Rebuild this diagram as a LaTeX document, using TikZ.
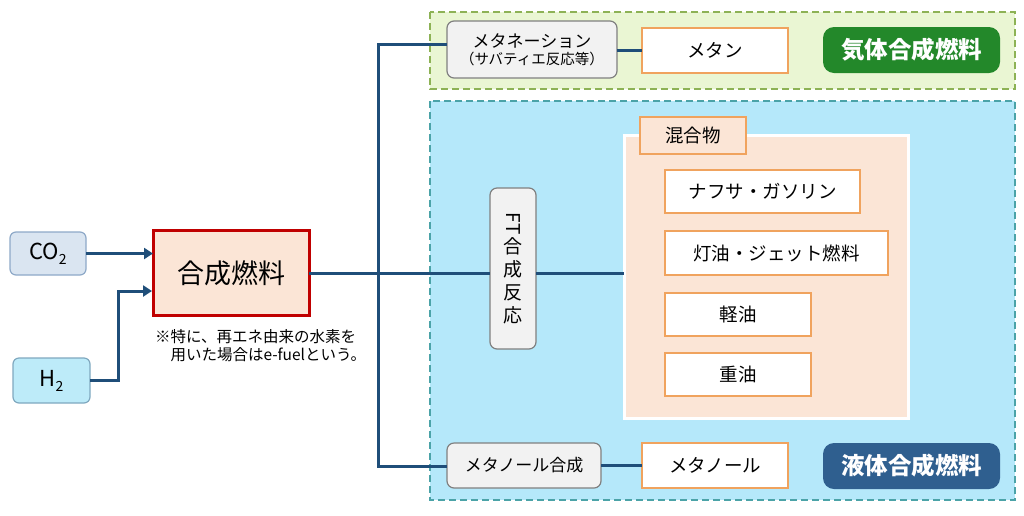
\documentclass[tikz,border=0pt]{standalone}
\usepackage{fontspec}
\setmainfont{Noto Sans CJK JP}
\usetikzlibrary{arrows.meta}
\definecolor{lineblue}{HTML}{1F4E79}
\definecolor{greenfill}{HTML}{EAF6D3}
\definecolor{greenborder}{HTML}{8DB255}
\definecolor{bluefill}{HTML}{B5E8FA}
\definecolor{blueborder}{HTML}{4BA3A8}
\definecolor{grayfill}{HTML}{F2F2F2}
\definecolor{grayborder}{HTML}{808080}
\definecolor{orangeb}{HTML}{F0A35E}
\definecolor{peach}{HTML}{FBE5D6}
\definecolor{cofill}{HTML}{DAE5F1}
\definecolor{coborder}{HTML}{8EA9C8}
\definecolor{hfill}{HTML}{BDEBF9}
\definecolor{hborder}{HTML}{7FA8BF}
\definecolor{glabel}{HTML}{23882A}
\definecolor{blabel}{HTML}{2F5F8F}
\definecolor{darkred}{HTML}{C00000}
\tikzset{
  x=1pt, y=-1pt,
  box/.style={inner sep=0pt, outer sep=0pt, align=center},
  procbox/.style={box, draw=grayborder, fill=grayfill, line width=1.2pt, rounded corners=7pt},
  prodbox/.style={box, draw=orangeb, fill=white, line width=1.8pt},
  tagbox/.style={box, rounded corners=11pt, text=white, font=\fontsize{23.5}{26}\selectfont\bfseries},
  conn/.style={draw=lineblue, line width=3pt},
  arr/.style={conn, -{Triangle[length=9pt,width=11pt]}},
  region/.style={line width=1.5pt, dash pattern=on 7pt off 4pt},
  t18/.style={font=\fontsize{18.5}{22}\selectfont},
}
\begin{document}
\begin{tikzpicture}
\useasboundingbox (0,0) rectangle (1024,515);
% regions
\path[region, draw=greenborder, fill=greenfill] (430,12) rectangle (1015,89);
\path[region, draw=blueborder, fill=bluefill] (430,101) rectangle (1015,500);
% mixture panel
\node[box, draw=white, fill=peach, line width=3pt, minimum width=284pt, minimum height=283pt] (mix) at (766,276.5) {};
% nodes
\node[box, draw=coborder, fill=cofill, line width=1.2pt, rounded corners=6pt, minimum width=76pt, minimum height=43pt, font=\fontsize{22}{24}\selectfont] (co2) at (48,253.5) {CO{\fontsize{14}{14}\selectfont\raisebox{-5pt}{2}}};
\node[box, draw=hborder, fill=hfill, line width=1.2pt, rounded corners=6pt, minimum width=77pt, minimum height=45pt, font=\fontsize{22}{24}\selectfont] (h2) at (51.5,380.5) {H{\fontsize{14}{14}\selectfont\raisebox{-5pt}{2}}};
\node[box, draw=darkred, fill=peach, line width=3pt, minimum width=156pt, minimum height=85pt, font=\fontsize{27}{30}\selectfont] (syn) at (231,273) {合成燃料};
\node[box, anchor=north west, align=left, font=\fontsize{15.5}{18.5}\selectfont] (note) at (155,329) {※特に、再エネ由来の水素を\\\hspace*{1em}用いた場合はe-fuelという。};
\node[procbox, minimum width=170pt, minimum height=57pt] (meth) at (532,49.5) {{\fontsize{17}{19}\selectfont メタネーション}\\[3pt]{\fontsize{14.5}{16}\selectfont （サバティエ反応等）}};
\node[prodbox, minimum width=146pt, minimum height=45pt, t18] (methane) at (715,50.5) {メタン};
\node[tagbox, fill=glabel, minimum width=177pt, minimum height=46pt] (gas) at (911.5,50) {気体合成燃料};
\node[procbox, minimum width=46pt, minimum height=161pt, font=\fontsize{19}{23}\selectfont] (ft) at (513,268.5) {\rotatebox{-90}{FT}\\[2pt]合\\成\\反\\応};
\node[box, draw=orangeb, fill=peach, line width=1.8pt, minimum width=106pt, minimum height=37pt, t18] (mixlabel) at (693,135.5) {混合物};
\node[prodbox, minimum width=195pt, minimum height=43pt, t18] (naphtha) at (762.5,191.5) {ナフサ・ガソリン};
\node[prodbox, minimum width=223pt, minimum height=44pt, t18] (kero) at (776.5,253) {灯油・ジェット燃料};
\node[prodbox, minimum width=146pt, minimum height=43pt, t18] (diesel) at (738,314.5) {軽油};
\node[prodbox, minimum width=146pt, minimum height=43pt, t18] (heavy) at (738,374.5) {重油};
\node[procbox, minimum width=154pt, minimum height=45pt, font=\fontsize{17}{19}\selectfont] (mosyn) at (524,465.5) {メタノール合成};
\node[prodbox, minimum width=146pt, minimum height=45pt, t18] (methanol) at (715,465.5) {メタノール};
\node[tagbox, fill=blabel, minimum width=177pt, minimum height=46pt] (liq) at (911.5,466) {液体合成燃料};
% connectors
\coordinate (jtop) at (378,44);
\coordinate (jbot) at (378,466);
\coordinate (hin) at (152,291);
\coordinate (hbend) at (118,380.5);
\draw[arr] (co2.east) -- (co2.east -| syn.west);
\draw[arr] (h2.east) -- (hbend) |- (hin);
\draw[conn] (syn.east) -- (ft.west |- syn.east);
\draw[conn, line cap=rect] (jtop) -- (jbot);
\draw[conn] (jtop) -- (jtop -| meth.west);
\draw[conn] (jbot) -- (jbot -| mosyn.west);
\draw[conn] (ft.east |- syn.east) -- (mix.west |- syn.east);
\draw[conn] (meth.east |- methane.west) -- (methane.west);
\draw[conn] (mosyn.east) -- (methanol.west);
\end{tikzpicture}
\end{document}
